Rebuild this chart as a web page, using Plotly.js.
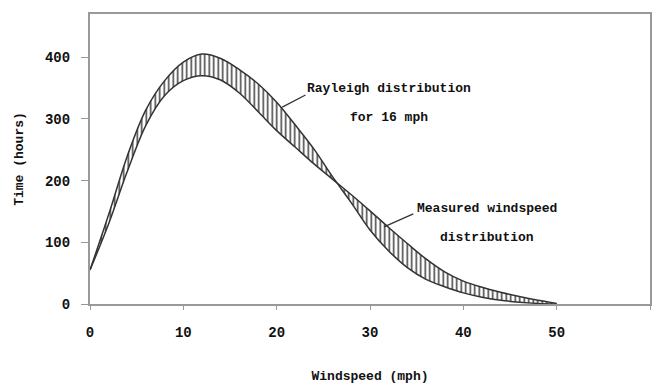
<!DOCTYPE html>
<html>
<head>
<meta charset="utf-8">
<script src="https://cdn.plot.ly/plotly-3.0.1.min.js"></script>
<style>html,body{margin:0;padding:0;background:#fff;}#chart{width:652px;height:387px;}</style>
</head>
<body>
<div id="chart"></div>
<script>
// Windspeed (mph)
const windspeed = [0, 2, 4, 6, 8, 10, 12, 14, 16, 18, 20, 22, 24, 26, 28, 30, 32, 34, 36, 38, 40, 42, 44, 46, 48, 50];
// Rayleigh distribution for 16 mph (hours)
const rayleigh = [55, 145, 240, 315, 362, 392, 405, 398, 380, 357, 327, 290, 251, 206, 164, 120, 86, 59, 40, 28, 18, 11, 6, 3, 1, 0];
// Measured windspeed distribution (hours)
const measured = [55, 130, 215, 290, 338, 362, 370, 363, 342, 312, 281, 254, 227, 202, 177, 151, 124, 98, 73, 52, 37, 27, 19, 12, 6, 1];

const xTicks = [0, 10, 20, 30, 40, 50, 60];
const yTicks = [0, 100, 200, 300, 400];

const FONT = "'Liberation Mono', 'DejaVu Sans Mono', monospace";
const TXT = '#111';

const traces = [
  {
    x: windspeed, y: rayleigh, type: 'scatter', mode: 'lines',
    line: {color: '#333', width: 1.5, shape: 'spline', smoothing: 1},
    name: 'Rayleigh distribution for 16 mph', hoverinfo: 'skip'
  },
  {
    x: windspeed, y: measured, type: 'scatter', mode: 'lines',
    line: {color: '#333', width: 1.5, shape: 'spline', smoothing: 1},
    fill: 'tonexty', fillcolor: 'rgba(0,0,0,0)',
    fillpattern: {shape: '|', size: 4.5, solidity: 0.35, fgcolor: '#444', bgcolor: 'rgba(255,255,255,0)'},
    name: 'Measured windspeed distribution', hoverinfo: 'skip'
  }
];

const ann = (text, x, y) => ({text, x, y, xref: 'x', yref: 'y', showarrow: false,
  font: {family: FONT, size: 13, color: TXT, weight: 'bold'}, xanchor: 'center', yanchor: 'middle'});
const arrow = (x, y, ax, ay) => ({text: '', x, y, ax, ay, xref: 'x', yref: 'y', axref: 'x', ayref: 'y',
  showarrow: true, arrowhead: 0, arrowwidth: 1.3, arrowcolor: '#333', standoff: 0, startstandoff: 0});

const layout = {
  width: 652, height: 387,
  margin: {l: 90, r: 2, t: 14, b: 83},
  paper_bgcolor: '#fff', plot_bgcolor: '#fff',
  showlegend: false,
  font: {family: FONT, size: 13, color: TXT, weight: 'bold'},
  xaxis: {
    range: [0, 60], tickvals: xTicks, ticktext: xTicks.map(String),
    showgrid: false, zeroline: false,
    showline: true, linecolor: '#999', linewidth: 2, mirror: true,
    ticks: 'outside', ticklen: 4, tickcolor: '#999', tickwidth: 1,
    ticklabelstandoff: 10,
    tickfont: {family: FONT, size: 14, color: TXT, weight: 'bold'},
    title: {text: 'Windspeed (mph)', standoff: 31, font: {family: FONT, size: 13, color: TXT, weight: 'bold'}}
  },
  yaxis: {
    range: [0, 470], tickvals: yTicks, ticktext: yTicks.map(String),
    showgrid: false, zeroline: false,
    showline: true, linecolor: '#999', linewidth: 2, mirror: true,
    ticks: 'outside', ticklen: 7, tickcolor: '#999', tickwidth: 1,
    ticklabelstandoff: 8,
    tickfont: {family: FONT, size: 14, color: TXT, weight: 'bold'},
    title: {text: 'Time (hours)', standoff: 18, font: {family: FONT, size: 13, color: TXT, weight: 'bold'}}
  },
  annotations: [
    ann('Rayleigh distribution', 32.0, 350),
    ann('for 16 mph', 32.0, 303),
    arrow(20.6, 319, 23.25, 340),
    ann('Measured windspeed', 42.5, 155),
    ann('distribution', 42.5, 108),
    arrow(31.5, 125, 34.8, 147)
  ]
};

Plotly.newPlot('chart', traces, layout, {displayModeBar: false, staticPlot: true});
</script>
</body>
</html>
